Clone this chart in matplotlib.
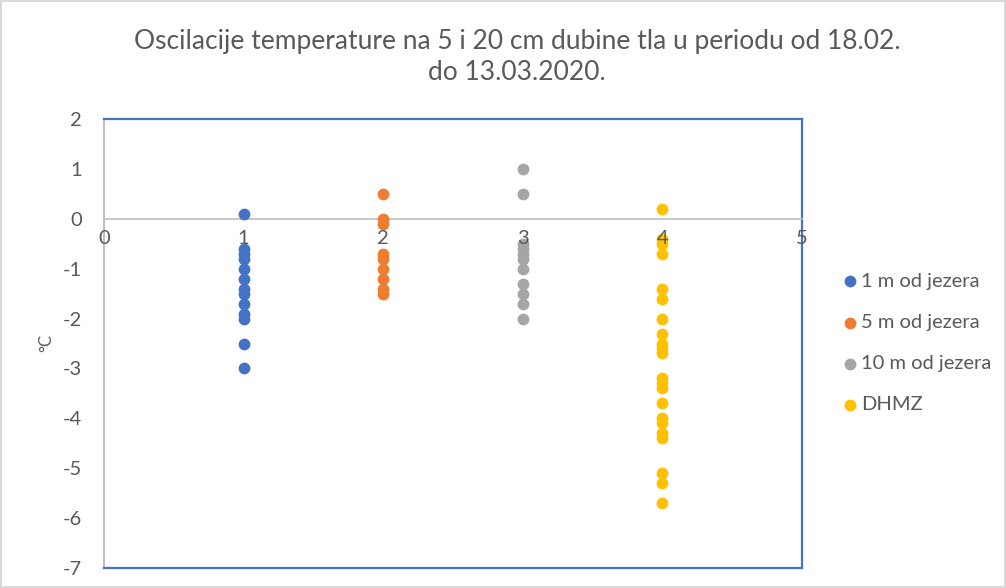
import matplotlib
matplotlib.use("Agg")
import matplotlib.pyplot as plt

plt.rcParams['font.family'] = ['Lato', 'DejaVu Sans']
plt.rcParams['axes.unicode_minus'] = False

series_names = ['1 m od jezera', '5 m od jezera', '10 m od jezera', 'DHMZ']
series_x = [1, 2, 3, 4]
series_colors = ['#4472C4', '#ED7D31', '#A5A5A5', '#FFC000']

vals_1m = [0.1, -0.6, -0.7, -0.8, -1.0, -1.2, -1.4, -1.5, -1.7, -1.9, -2.0, -2.5, -3.0]
vals_5m = [0.5, 0.0, -0.1, -0.7, -0.8, -1.0, -1.2, -1.4, -1.5]
vals_10m = [1.0, 0.5, -0.5, -0.6, -0.7, -0.8, -1.0, -1.3, -1.5, -1.7, -2.0]
vals_dhmz = [0.2, -0.4, -0.5, -0.7, -1.4, -1.6, -2.0, -2.3, -2.5, -2.6, -2.7,
             -3.2, -3.3, -3.4, -3.7, -4.0, -4.1, -4.3, -4.4, -5.1, -5.3, -5.7]
all_vals = [vals_1m, vals_5m, vals_10m, vals_dhmz]

x_ticks = [0, 1, 2, 3, 4, 5]
y_ticks = [2, 1, 0, -1, -2, -3, -4, -5, -6, -7]

text_color = '#595959'
axis_gray = '#BFBFBF'
frame_blue = '#4472C4'

fig = plt.figure(figsize=(10.06, 5.88), dpi=100)
fig.patch.set_edgecolor('#D9D9D9')
fig.patch.set_linewidth(1.5)
ax = fig.add_axes([104 / 1006, 20 / 588, 698 / 1006, 449 / 588])

for name, xv, color, vals in zip(series_names, series_x, series_colors, all_vals):
    ax.scatter([xv] * len(vals), vals, s=72, color=color, label=name,
               linewidths=0, zorder=2.7)

ax.set_xlim(0, 5)
ax.set_ylim(-7, 2)
ax.set_xticks(x_ticks)
ax.set_yticks(y_ticks)
ax.tick_params(length=0, labelsize=14.5, colors=text_color)
ax.tick_params(axis='y', pad=16)
ax.tick_params(axis='x', pad=8)
ax.xaxis.set_zorder(5)

# axes crossing at zero like Excel
ax.spines['bottom'].set_position(('data', 0))
ax.spines['bottom'].set_color(axis_gray)
ax.spines['bottom'].set_linewidth(1.2)
ax.spines['left'].set_color(axis_gray)
ax.spines['left'].set_linewidth(1.5)
for side in ['top', 'right']:
    ax.spines[side].set_color(frame_blue)
    ax.spines[side].set_linewidth(1.6)
ax.axhline(-7, color=frame_blue, lw=1.6, clip_on=False, zorder=4)

ax.set_ylabel('°C', fontsize=12, color=text_color, labelpad=6)

fig.text(517 / 1006, 1 - 57 / 588,
         'Oscilacije temperature na 5 i 20 cm dubine tla u periodu od 18.02.\ndo 13.03.2020.',
         ha='center', va='center', fontsize=19, color=text_color, linespacing=1.25)

fig.legend(loc='center left', bbox_to_anchor=(822 / 1006, 1 - 343 / 588),
           frameon=False, fontsize=14.5, labelcolor=text_color,
           handletextpad=0.05, labelspacing=1.2, markerscale=1.0,
           handlelength=1.0)

fig.savefig('out.png', dpi=100)
